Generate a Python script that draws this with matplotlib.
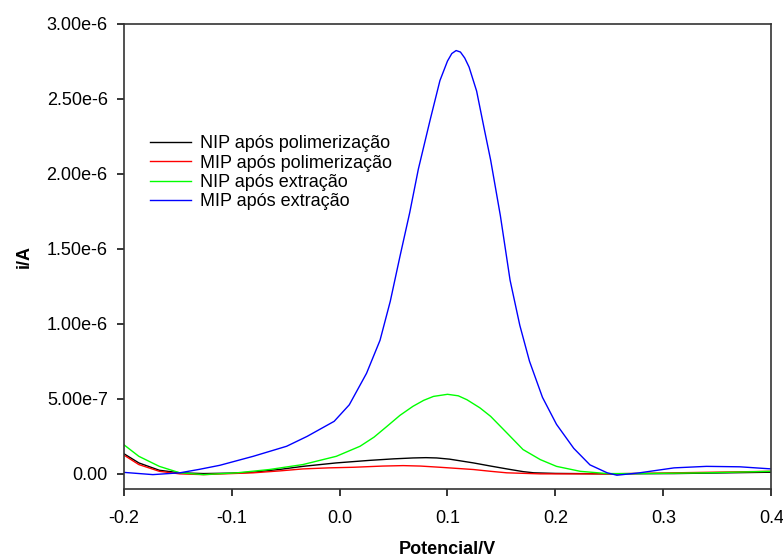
import numpy as np
import matplotlib
matplotlib.use('Agg')
import matplotlib.pyplot as plt

plt.rcParams['font.family'] = ['Liberation Sans', 'DejaVu Sans']

# valores (corrente em unidades de 1e-7 A)
x_nip_pol = [-0.200, -0.186, -0.167, -0.148, -0.126, -0.100, -0.080, -0.055, -0.034, -0.003,
             0.028, 0.050, 0.068, 0.080, 0.090, 0.102, 0.124, 0.140, 0.155, 0.170,
             0.180, 0.200, 0.217, 0.248, 0.310, 0.400]
i_nip_pol = [1.35, 0.73, 0.24, 0.07, 0.02, 0.05, 0.11, 0.30, 0.50, 0.73,
             0.90, 1.00, 1.06, 1.08, 1.06, 0.98, 0.73, 0.52, 0.33, 0.15,
             0.07, 0.03, 0.02, 0.00, 0.02, 0.11]

x_mip_pol = [-0.200, -0.186, -0.167, -0.148, -0.126, -0.100, -0.080, -0.055, -0.034, -0.010,
             0.013, 0.040, 0.059, 0.075, 0.093, 0.124, 0.140, 0.155, 0.186, 0.248,
             0.310, 0.400]
i_mip_pol = [1.26, 0.62, 0.17, 0.00, -0.05, 0.02, 0.07, 0.20, 0.33, 0.40,
             0.44, 0.52, 0.55, 0.52, 0.44, 0.29, 0.17, 0.07, 0.00, 0.00,
             0.07, 0.17]

x_nip_ext = [-0.200, -0.186, -0.167, -0.148, -0.126, -0.095, -0.065, -0.034, -0.003,
             0.019, 0.032, 0.044, 0.056, 0.068, 0.078, 0.087, 0.100, 0.110, 0.118,
             0.130, 0.140, 0.155, 0.170, 0.186, 0.201, 0.223, 0.248, 0.278, 0.340, 0.400]
i_nip_ext = [1.95, 1.17, 0.50, 0.07, -0.05, 0.07, 0.29, 0.62, 1.17,
             1.84, 2.45, 3.17, 3.90, 4.50, 4.90, 5.16, 5.30, 5.20, 4.94,
             4.40, 3.83, 2.73, 1.62, 0.95, 0.50, 0.17, 0.02, 0.02, 0.07, 0.17]

x_mip_ext = [-0.200, -0.173, -0.148, -0.130, -0.111, -0.080, -0.049, -0.030, -0.015,
             -0.005, 0.009, 0.025, 0.0375, 0.047, 0.056, 0.065, 0.073, 0.084, 0.093,
             0.100, 0.104, 0.108, 0.112, 0.116, 0.120, 0.127, 0.134, 0.140, 0.149,
             0.158, 0.167, 0.176, 0.188, 0.201, 0.217, 0.232, 0.248, 0.257, 0.278,
             0.310, 0.340, 0.371, 0.400]
i_mip_ext = [0.10, -0.05, 0.07, 0.30, 0.57, 1.17, 1.84, 2.50, 3.10,
             3.50, 4.60, 6.70, 8.90, 11.5, 14.5, 17.4, 20.3, 23.6, 26.2,
             27.5, 28.0, 28.2, 28.1, 27.7, 27.1, 25.5, 23.0, 20.9, 17.2,
             12.9, 9.90, 7.50, 5.10, 3.30, 1.70, 0.60, 0.07, -0.09, 0.07,
             0.40, 0.50, 0.47, 0.33]

labels = ['NIP após polimerização', 'MIP após polimerização',
          'NIP após extração', 'MIP após extração']
cores = ['black', '#ff0000', '#00ff00', '#0000ff']

x_ticks = [-0.2, -0.1, 0.0, 0.1, 0.2, 0.3, 0.4]
x_tick_labels = ['-0.2', '-0.1', '0.0', '0.1', '0.2', '0.3', '0.4']
y_ticks = [0, 0.5e-6, 1.0e-6, 1.5e-6, 2.0e-6, 2.5e-6, 3.0e-6]
y_tick_labels = ['0.00', '5.00e-7', '1.00e-6', '1.50e-6', '2.00e-6', '2.50e-6', '3.00e-6']

fig = plt.figure(figsize=(7.83, 5.6), dpi=100)
ax = fig.add_axes([0.158, 0.127, 0.827, 0.831])

series = [(x_nip_pol, i_nip_pol), (x_mip_pol, i_mip_pol),
          (x_nip_ext, i_nip_ext), (x_mip_ext, i_mip_ext)]
for (xs, ys), lab, c in zip(series, labels, cores):
    ax.plot(xs, np.array(ys) * 1e-7, color=c, lw=1.0, label=lab)

ax.set_xlim(-0.2, 0.4)
ax.set_ylim(-1.0e-7, 3.0e-6)
ax.set_xticks(x_ticks)
ax.set_xticklabels(x_tick_labels)
ax.set_yticks(y_ticks)
ax.set_yticklabels(y_tick_labels)
ax.tick_params(direction='out', length=5, width=1.1, labelsize=13, colors='black')
ax.tick_params(axis='x', pad=10)
ax.tick_params(axis='y', pad=6.5)

for s in ax.spines.values():
    s.set_linewidth(1.2)
    s.set_color('#333333')

ax.set_xlabel('Potencial/V', fontsize=13, fontweight='bold', labelpad=10)
ax.set_ylabel('i/A', fontsize=13, fontweight='bold', labelpad=10)

ax.legend(loc='upper left', bbox_to_anchor=(0.04, 0.76), frameon=False,
          fontsize=13, handlelength=2.3, handletextpad=0.5,
          labelspacing=0.13, borderpad=0, borderaxespad=0)

fig.savefig('out.png', dpi=100)
